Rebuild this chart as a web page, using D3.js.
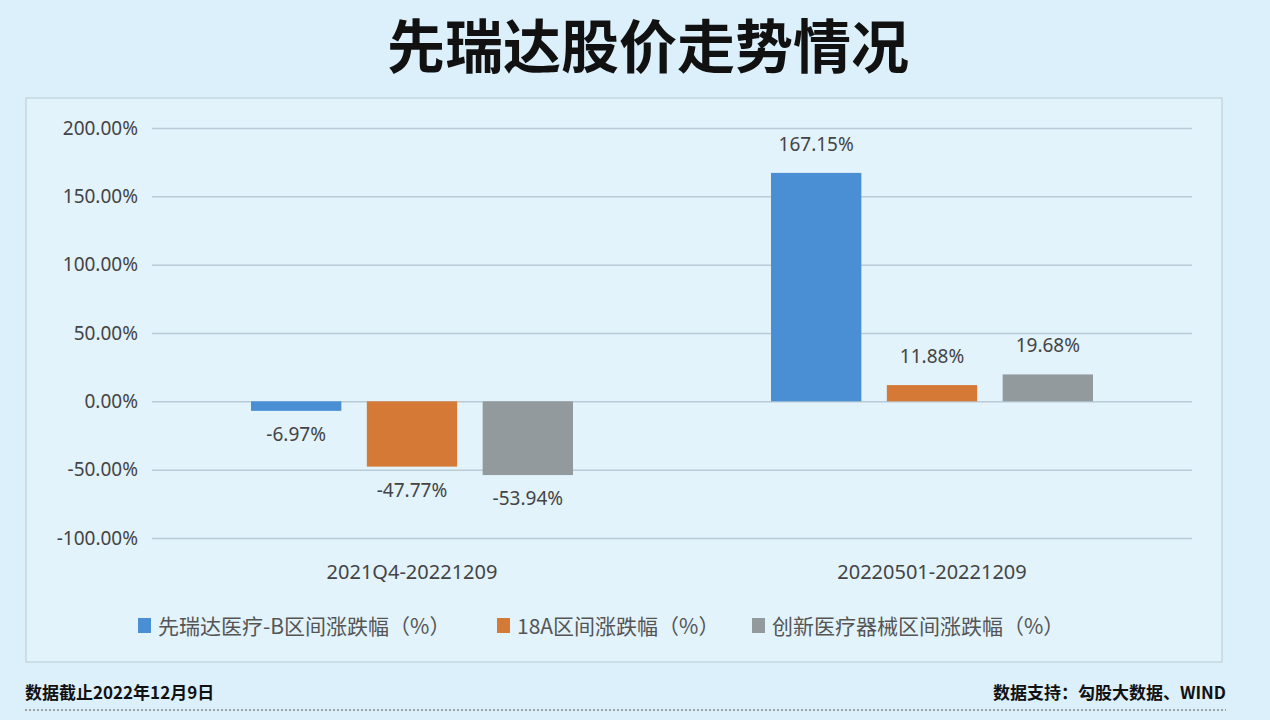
<!DOCTYPE html>
<html><head><meta charset="utf-8">
<script src="https://cdn.jsdelivr.net/npm/d3@7"></script>
<style>body{margin:0;background:#dcf0fb;font-family:"Noto Sans CJK SC","Noto Sans",sans-serif}</style>
</head><body>
<svg id="chart" width="1270" height="720"></svg>
<script>
var categories = ["2021Q4-20221209", "20220501-20221209"];
var seriesNames = ["先瑞达医疗-B区间涨跌幅（%）", "18A区间涨跌幅（%）", "创新医疗器械区间涨跌幅（%）"];
var seriesColors = ["#4a8fd4", "#d47a36", "#939a9e"];
var values = [
  [-6.97, 167.15],
  [-47.77, 11.88],
  [-53.94, 19.68]
];
var yTicks = [-100, -50, 0, 50, 100, 150, 200];

var svg = d3.select("#chart");
svg.append("rect").attr("width", 1270).attr("height", 720).attr("fill", "#dcf0fb");
svg.append("text").attr("x", 648).attr("y", 68).attr("text-anchor", "middle")
  .attr("font-size", 58).attr("font-weight", "bold").attr("fill", "#111").text("先瑞达股价走势情况");

svg.append("rect").attr("x", 26).attr("y", 98).attr("width", 1196).attr("height", 564)
  .attr("fill", "#e2f3fc").attr("stroke", "#c5d6e0").attr("stroke-width", 1.5);

var y = d3.scaleLinear().domain([-100, 200]).range([538, 128]);
var x0 = d3.scaleBand().domain(categories).range([152, 1192]);
var x1 = d3.scaleBand().domain(d3.range(3)).range([99, 421]).paddingInner(0.22).paddingOuter(0);

var yAxis = svg.append("g").attr("transform", "translate(152,0)")
  .call(d3.axisLeft(y).tickValues(yTicks).tickSize(-1040).tickFormat(function(d){ return d.toFixed(2) + "%"; }));
yAxis.select(".domain").remove();
yAxis.selectAll("line").attr("stroke", "#b9cbd6").attr("stroke-width", 1.5);
yAxis.selectAll("text").attr("x", -14).attr("font-size", 19).attr("fill", "#444").attr("font-family", "Noto Sans");

var g = svg.append("g");
values.forEach(function(vals, s){
  vals.forEach(function(v, c){
    var bx = x0(categories[c]) + x1(s);
    g.append("rect").attr("x", bx).attr("width", x1.bandwidth())
      .attr("y", y(Math.max(0, v))).attr("height", Math.abs(y(v) - y(0)))
      .attr("fill", seriesColors[s]);
    g.append("text").attr("x", bx + x1.bandwidth() / 2)
      .attr("y", v >= 0 ? y(v) - 22 : y(v) + 30)
      .attr("text-anchor", "middle").attr("font-size", 19).attr("fill", "#444")
      .attr("font-family", "Noto Sans").text(v.toFixed(2) + "%");
  });
});

svg.append("g").selectAll("text").data(categories).enter().append("text")
  .attr("x", function(d){ return x0(d) + x0.bandwidth() / 2; }).attr("y", 579)
  .attr("text-anchor", "middle").attr("font-size", 20).attr("fill", "#444").attr("font-family", "Noto Sans")
  .text(function(d){ return d; });

var legendX = [138, 497, 752];
seriesNames.forEach(function(n, i){
  svg.append("rect").attr("x", legendX[i]).attr("y", 618).attr("width", 13).attr("height", 15).attr("fill", seriesColors[i]);
  svg.append("text").attr("x", legendX[i] + 20).attr("y", 634).attr("font-size", 21).attr("fill", "#555").text(n);
});

svg.append("text").attr("x", 25).attr("y", 699).attr("font-size", 17).attr("font-weight", "bold").attr("fill", "#111").text("数据截止2022年12月9日");
svg.append("text").attr("x", 1226).attr("y", 699).attr("text-anchor", "end").attr("font-size", 17).attr("font-weight", "bold").attr("fill", "#111").text("数据支持：勾股大数据、WIND");
svg.append("line").attr("x1", 25).attr("x2", 1226).attr("y1", 710).attr("y2", 710)
  .attr("stroke", "#888").attr("stroke-width", 1.5).attr("stroke-dasharray", "2,2");
</script>
</body></html>
